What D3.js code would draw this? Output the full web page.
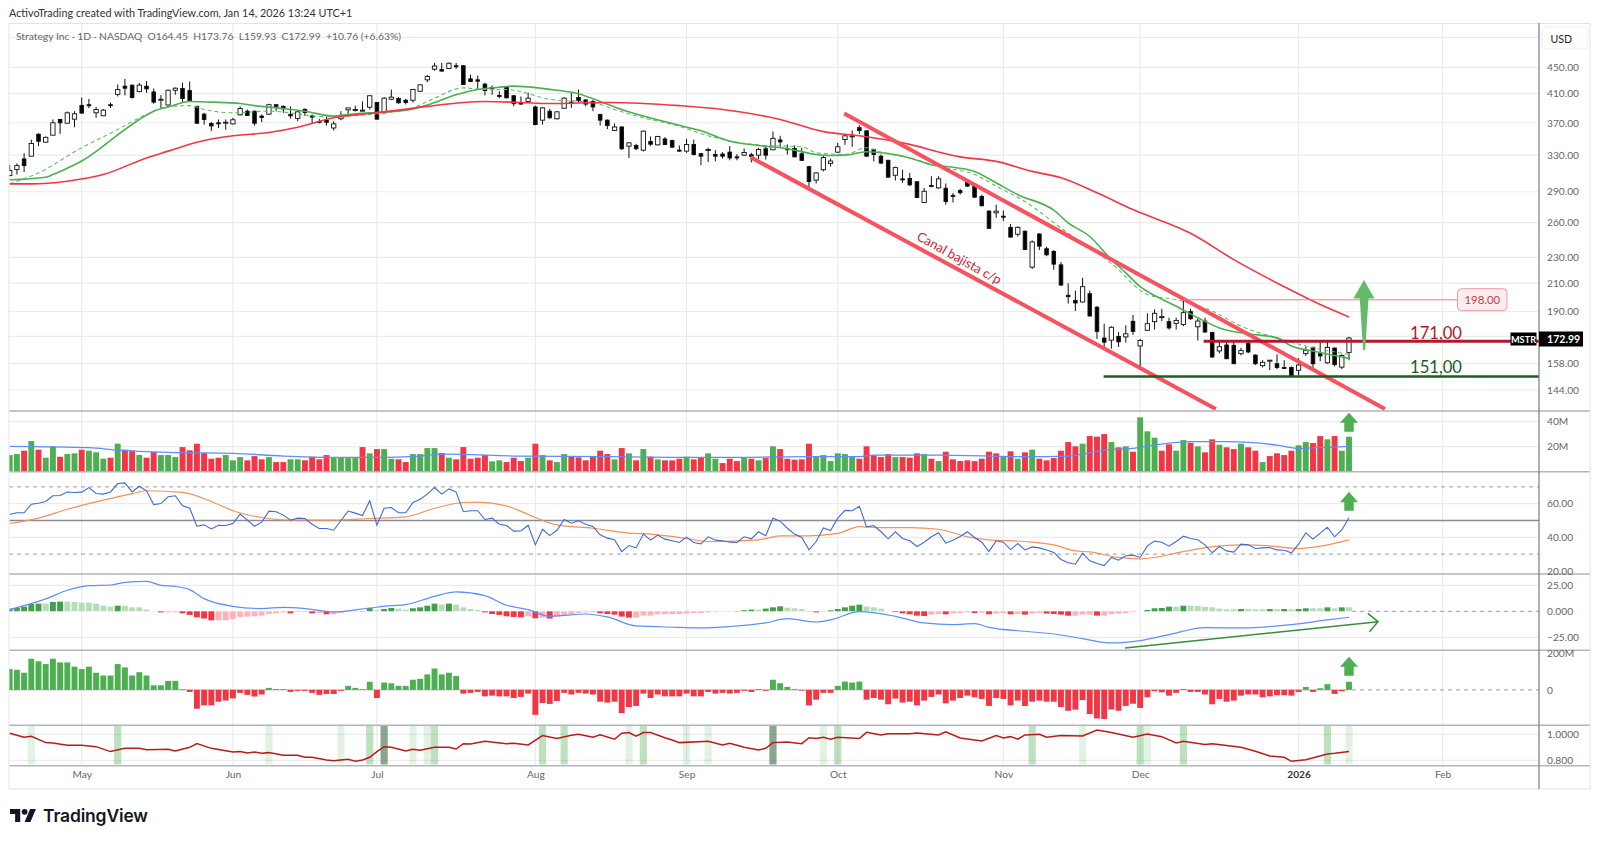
<!DOCTYPE html>
<html lang="en">
<head>
<meta charset="UTF-8">
<title>Strategy Inc - 1D - NASDAQ</title>
<script src="https://d3js.org/d3.v7.min.js"></script>
<style>
  html, body { margin: 0; padding: 0; background: #fff; }
  svg { display: block; }
  text { font-family: Lato, "Noto Sans", sans-serif; }
  .axis text { font-size: 10.2px; fill: #666; font-family: Lato, "Noto Sans", sans-serif; }
  .axis path, .axis line { display: none; }
  .grid { stroke: #ebebeb; stroke-width: 1.2; }
  .sep { stroke: #b2b5be; stroke-width: 1.6; }
</style>
</head>
<body>
<svg id="chart" width="1600" height="842"></svg>
<script>
// OHLC, one value per trading day
const openP = [
  307,313.7,325.6,328.8,355.3,345.4,354.1,374.3,369.4,374.7,
  393.4,394.3,383.2,379.2,394.3,409,421,422.5,413,421,
  412.5,401,393.9,415,417.5,414.5,392,381.4,369,369.9,
  369.9,368.5,380.5,385.4,385.4,378.8,381.4,394.3,392,381,
  375.6,388,378.8,371.6,373.4,363.2,375.2,387.2,386.8,385.9,
  390.8,397.4,383.2,402,403,400.6,400.6,413.5,430.5,447,
  446.5,448,452.5,452.5,432,430.5,424,419,407.5,419,
  407,397.4,398.8,391.2,373.4,385.4,375.2,389.4,397.9,404.5,
  401,398.8,381,373.4,360.1,364.5,340.7,341.5,335.9,346.2,
  342.2,349.4,347.4,335.9,334.7,342.6,331.6,335.9,330.8,331.2,
  333.5,328,330,330.4,330,337.5,336.3,348.2,337.5,337.9,
  331.6,316.9,302.1,313.4,320.5,333.5,348.6,352,363.6,359.6,
  336.7,328.8,324,307.4,303.5,303.9,300.4,279.2,296.5,294,
  293.6,286.3,291.2,300,296.8,285.2,270.8,269.2,266,255.7,
  249.6,252.3,222.2,249.8,237.1,234.9,224,201.2,197.6,196.5,
  202.3,192.9,173,171.7,174,173.7,183.5,168.2,177.8,183.3,
  186.1,183.3,182.2,181.5,189.9,180,183.7,176.4,165.3,168.8,
  168.6,163.7,169.8,162.9,156.9,159.4,158,155.9,155.9,154.4,
  163.7,167.4,163.7,158.5,167,156.1,164.45];
const highP = [
  318.9,320.5,332.3,348.6,356.5,352.5,374.3,375.2,385,385.4,
  404.5,402.5,391.2,388.5,397.4,423.5,432,423.5,426,428.5,
  417.5,408,416,419,426,428,393,383.2,371.2,374.3,
  374.3,376.5,392,387.7,386.3,381,395.7,395.2,393.4,392,
  385.4,389,381,375.2,378,372,385.4,389.9,393,398.8,
  408,397.4,405,416,405,402.5,417,423.5,438,457,
  457,457.5,457,453.5,438.5,437,426,422,413.5,420,
  408,406,411.5,393,390.8,388.5,385.4,405,411,416,
  402,401,381.9,374.3,369,365.4,345.4,343.5,360,352.5,
  353.3,351.7,348.6,341.5,349.4,348.6,332.7,338.7,335.9,333.5,
  340.7,331.2,337.9,332.7,338.7,341.5,358.7,353.3,342.6,341.5,
  338.7,317.7,310.6,329.6,326,344.6,354,360,366.7,360,
  337.5,330.8,324.8,316.9,313.4,309.9,301,294,306.3,306.3,
  298.6,288.7,293,301,298.6,287,271.7,277,271.4,258.8,
  256.6,252.9,244.3,250.4,238.8,236,226.3,209.9,204.6,214,
  204.6,193.6,182,180.4,176.7,181,187.7,172.5,188.8,191.4,
  191.8,185.9,185.9,199.2,191.8,185.2,185.9,176.9,171.7,171.7,
  170.7,167.2,171.1,163.3,160,160,163.3,160,156.5,161.2,
  167.8,167.8,171.1,170.7,167.2,163.3,173.76];
const lowP = [
  306.3,308.1,310.9,328.8,340.7,344.6,354,355.7,369,364.1,
  381.9,389.4,376.5,378.8,389.9,406,407.5,403,412,411,
  395.7,389.9,393,408.5,396.6,399,368.5,367.6,359.2,363.2,
  361,367.6,379.6,378.8,366.3,370.7,380.5,385.4,383.2,375.6,
  372,378.8,368.5,369,366.3,360,373.4,381,385,385,
  387.7,374.3,382.3,401,395.7,394.8,397.4,413,427,444.5,
  443.5,447.5,447.5,423,427,416,407.5,408.5,403.5,403.5,
  392,394.3,398.8,366.7,367.6,375.2,374.3,388.5,389.9,397.4,
  392,385.4,366.3,361.8,359.6,335.9,326.8,335.9,334.3,340.7,
  341.5,341.9,338.3,333.9,332.7,329.6,318.5,322,322.8,326,
  324,324,328.8,321.6,325.6,324.8,335.9,339.9,330.8,327.6,
  323.2,294,298.6,311.6,316.9,332.7,342.2,339.9,355.7,328.4,
  322.8,319.7,304.6,301.8,299.3,295.8,283.5,279.2,294.7,293,
  277,279.2,287,295,283.8,275.4,254.5,264.5,261.4,246.8,
  247.6,236,220.7,236,231,220.2,207.9,195.4,190.3,196.2,
  186.6,172.5,167.2,166.6,167.6,170.2,175,155.5,177.5,178.2,
  183.7,178.2,178.2,180.4,184.4,171.5,176.4,161.2,163.9,160.6,
  157.9,162.7,163.9,157.3,155.9,154.5,155,155,150.8,151.6,
  162.4,154.8,159.4,158,156.5,155,159.93];
const closeP = [
  312.7,318,318,343.8,346.6,351.4,369.9,369.9,383.2,381.9,
  382.8,393.4,387.7,386.8,393.4,416,418,404.5,422.5,417,
  397.9,402,415,418,403,400,369.4,374.3,365.8,369,
  370.7,373.9,389,379.6,369.4,377,394.3,391.7,388.5,379.2,
  384.5,383.6,378,370.7,370.7,368.5,378.8,389.9,387.7,386.8,
  407,374.7,403.5,405,397,397.4,416,423,435.5,452,
  444,456.5,451.5,423.5,428,428.5,414.5,417,406.5,404,
  395.7,395.2,403.5,367.6,389.9,376.5,384.5,403.5,396.1,400,
  395.2,391.2,373.4,366.3,364.5,337.5,344.6,337.5,359.2,343,
  352.5,342.6,339.5,335,342.6,330.8,328.8,336.7,328.8,328.8,
  326.8,327.2,333.1,328.4,336.7,330,350.2,345.8,336.7,328,
  324,300.7,309.9,327.2,323.2,339.9,353.3,353.3,360,328.8,
  330.8,320.9,305.3,315.8,302.8,297.2,284.2,290.5,295.4,303.5,
  280.1,285.6,289,295.8,284.5,276,254.8,270.8,265.4,247.1,
  255.7,236.5,242.9,239.3,232.1,224.6,208.6,200.2,195.8,207.4,
  187,177.1,170.5,179.7,170.7,175.6,177.1,171.5,182,188.8,
  186.6,179.3,184.1,189.2,185.2,183.7,176.7,161.8,167.8,160.8,
  158,165.5,164.7,158,158.8,160,155.9,155.5,151.2,157.3,
  165.7,158,162.4,167.4,157.5,162.7,172.99];

// volume in millions, and which days print green
const volume = [
  13.3,14.1,16.8,24.5,17.6,11.2,20.3,12,14.1,14.7,
  17.6,16.8,15.5,10.4,11.2,22.4,17.6,16.8,13.3,11.2,
  15.7,13.3,13.3,11.7,19.7,17.1,22.4,14.9,10.4,11.2,
  13.3,9.1,11.7,9.1,12.5,9.9,11.7,7.7,7.7,9.9,
  9.9,9.1,12,9.9,13.3,11.2,11.2,10.9,10.9,19.7,
  14.7,18.1,18.1,10.4,9.9,7.7,14.1,14.1,18.9,18.9,
  14.9,11.2,9.9,19.7,10.4,11.2,13.3,8.3,9.1,7.7,
  11.2,8.5,11.2,22.4,13.3,9.1,7.7,14.1,12,11.5,
  9.1,11.7,16.8,14.1,9.9,18.9,14.7,9.1,18.1,12,
  9.9,9.1,9.1,10.4,12,9.9,11.2,14.7,10.4,6.9,
  10.4,8.5,11.7,10.4,9.1,10.9,20.3,18.1,10.4,9.6,
  9.9,22.4,12.5,13.3,8.5,14.7,14.1,12.5,10.4,20.3,
  13.1,11.7,14.1,11.7,11.7,11.2,14.7,14.1,10.4,8.5,
  16,9.9,8.5,9.1,8.5,10.4,16,14.7,12,16.3,
  10.4,15.5,17.6,10.4,9.1,10.9,16.8,23.7,20.3,22.4,
  28.5,28,30.1,23.7,19.5,20.3,16,43.5,32.3,27.2,
  16.8,21.9,16.8,25.3,23.2,20.3,15.5,25.9,21.6,19.5,
  18.1,22.4,19.5,16.8,7.7,12.5,14.7,13.3,16.8,21.1,
  23.7,22.9,28.5,25.9,28.5,16.8,28];
const volumeUpDays = [0,1,3,5,6,8,9,11,12,13,15,18,21,22,23,30,31,32,36,39,40,45,46,47,48,50,52,53,56,57,58,59,61,67,68,
  72,74,76,77,84,86,88,90,94,97,98,102,104,106,112,113,114,115,116,117,123,127,129,138,140,142,149,153,155,157,158,159,
  162,163,165,168,171,174,179,180,183,185,186];

// RSI
const rsiLine = [
  53.6,54.6,54.6,59.7,60.3,61.3,64.7,64.9,67,66.7,
  66.9,69.6,66.1,65.7,67,72,72.4,67,70.4,67.7,
  59.5,60.1,64.1,64.7,58.7,57.3,46.6,47.4,45,47.2,
  47,48.2,53.8,50.2,46.6,49,55.6,55.2,53.2,50.2,
  51.4,51.2,47.8,45.2,45.2,44.2,50,55.6,54.4,53,
  61.7,47.2,57.3,57.7,54.6,54.6,60.7,62.7,65.7,69.6,
  65.7,68.8,66.9,55.2,55.8,55.8,50.6,51.4,47.8,47,
  43.7,43.8,47.2,35.5,44.8,41,44.2,50.6,48.4,49.8,
  47.8,46.4,41.5,39.5,38.5,31.5,35.1,33.7,41.9,38.3,
  41.3,38.9,37.9,36.9,40.1,36.9,36.1,40.3,38.3,37.9,
  37.1,36.9,40.3,39.1,43.3,40.9,51.4,49.6,45.4,41.9,
  39.9,32.5,37.5,45.6,44,51.4,56,55.8,58.5,46.2,
  47,43.3,39.1,43.3,39.3,37.9,34.5,37.1,40.3,42.7,
  36.5,38.3,40.5,43.3,39.9,37.1,31.5,37.9,37.1,32.7,
  36.3,32.5,34.3,33.7,32.5,31,26.8,24.8,24,30.6,
  26,24.4,23.2,28,26.4,29,29.4,28,34.9,37.7,
  37.1,34.7,37.5,40.7,39.3,38.5,35.5,30.8,34.5,31.9,
  31.2,35.9,35.5,33.3,33.7,33.9,32.5,32.3,30.8,35.9,
  42.7,38.9,42.5,46,40.3,44.4,51.6];
const rsiMaDays = [0,4,8,13,17,19,24,28,31,35,39,45,50,55,59,63,65,69,73,76,81,86,89,94,97,104,107,111,115,118,121,125,129,133,136,141,145,148,150,154,157,163,167,171,175,179,182,186];
const rsiMaVals = [48.2,51.4,56.7,62.1,66,67.7,66.7,61.3,55.8,51.8,50.2,50.2,51.2,52.2,57.3,60.7,60.9,58.7,51.8,47.4,45.4,42.5,41.9,39.3,37.5,38.5,40.9,40.9,42.3,46.4,45.8,45.8,44.8,40.3,38.5,37.5,35.5,31.9,31.3,28,27.2,31.5,34.5,35.5,34.9,33.3,34.7,38.5];

// MACD histogram and line
const macdHist = [
  2.6,3.2,4.5,7,7.4,7.4,9,9.3,9.3,9,
  8.3,8.3,7.4,5.4,4.5,5.4,5.4,3.8,3.8,1.6,
  .2,-1,-1,-1,-1.9,-3.5,-5.8,-7,-8.7,-8.7,
  -8.7,-7.4,-5.4,-5.1,-4.8,-4.2,-2.6,-1.9,-1,-1.9,
  -.6,-.6,-1.9,-1.9,-2.9,-2.9,-1.6,-.6,-.3,.3,
  3.2,1,2.2,3.2,2.6,1.6,2.9,3.8,5.4,7.4,
  6.4,7.4,6.4,3.8,2.2,1.3,-1,-2.6,-3.5,-4.8,
  -5.4,-5.8,-4.8,-6.7,-6.1,-7,-5.1,-3.8,-3.2,-1.6,
  -1,-1,-1.9,-2.6,-3.2,-5.1,-6.1,-6.1,-4.2,-4.2,
  -2.9,-2.9,-2.6,-2.6,-2.2,-1.6,-1.6,-1,-.6,-.3,
  -.3,.3,1,1.6,1.6,2.6,3.8,4.8,3.5,2.9,
  2.2,-.2,-1,.2,1,2.2,3.8,5.4,6.4,4.5,
  3.8,2.6,-.1,-.6,-1.9,-2.9,-4.2,-4.5,-3.2,-2.6,
  -2.9,-1.9,-1.6,-1,-1.6,-1.3,-2.9,-2.2,-1.6,-2.9,
  -2.6,-3.2,-2.2,-1.6,-2.2,-2.6,-3.2,-4.2,-4.2,-3.2,
  -3.2,-4.2,-4.2,-2.6,-2.2,-1.6,-.6,0,1.3,2.9,
  3.2,4.5,4.5,5.4,5.4,5.2,4.2,3.8,2.6,1.9,
  1.9,2.2,2.2,1.9,1.9,2.2,1.9,2.2,1.9,2.2,
  2.9,2.9,2.9,3.8,2.9,3.8,3.8];
const macdDays = [0,5,8,11,14,16,19,21,23,25,27,31,35,38,41,45,50,53,55,59,62,66,69,72,75,80,83,87,93,96,100,105,108,112,114,118,123,127,131,134,136,141,145,149,153,157,161,166,171,178,183,186];
const macdVals = [1.6,11.9,20.2,24.7,25.3,27.9,28.8,25,24,20.8,12.2,4.8,2.6,3.8,2.6,-.6,3.2,5.4,6.4,14.4,18.6,15,5.8,1.6,-4.8,-2.6,-5.4,-14.1,-15.4,-16,-14.7,-11.2,-7,-10.3,-8.3,-.3,-4.8,-11.2,-12.8,-11.9,-15.4,-19.2,-21.8,-26.3,-30.4,-28.2,-22.4,-15.7,-16,-12.8,-8.3,-5.8];

// momentum-style histogram, in millions
const momHist = [
  113,109,93,169,155,140,169,149,149,126,
  113,126,93,78,78,140,122,78,96,78,
  25,25,49,49,4,-11,-102,-84,-84,-64,
  -58,-46,-16,-27,-36,-25,11,5,4,-11,
  -5,-5,-16,-27,-22,-22,-5,22,11,4,
  44,-44,40,36,22,22,55,60,84,116,
  84,93,75,-20,-16,-11,-35,-31,-35,-35,
  -44,-38,-20,-135,-71,-76,-60,-16,-25,-16,
  -20,-25,-64,-69,-64,-126,-93,-87,-20,-44,
  -25,-35,-35,-35,-20,-35,-35,-11,-20,-16,
  -20,-16,-5,-11,5,-5,55,36,16,5,
  -4,-84,-53,-16,-16,22,45,40,45,-53,
  -44,-53,-78,-47,-69,-64,-84,-58,-38,-25,
  -73,-58,-44,-31,-40,-49,-87,-44,-49,-84,
  -58,-87,-64,-58,-64,-64,-93,-113,-107,-55,
  -131,-155,-158,-106,-113,-87,-75,-98,-40,-7,
  -13,-31,-16,5,-11,-11,-25,-78,-49,-64,
  -58,-31,-25,-25,-40,-35,-29,-29,-31,-11,
  16,-11,9,31,-22,-7,44];

// correlation-style line and the highlighted days
const corrDays = [0,2,3,5,6,8,10,12,14,16,18,19,22,23,25,26,28,31,32,33,34,35,36,38,40,41,42,44,45,47,48,49,50,51,52,53,55,56,57,59,61,62,63,64,66,69,70,72,74,76,78,79,81,82,84,85,86,87,88,89,91,92,93,97,99,100,102,104,105,106,108,110,111,112,113,114,115,118,119,121,122,125,126,129,130,132,135,137,138,139,140,141,143,144,146,149,151,153,156,158,160,162,163,166,167,171,173,175,177,178,180,183,184,186];
const corrVals = [1.008,.977,.985,.936,.933,.915,.915,.905,.867,.892,.892,.882,.885,.872,.9,.928,.892,.864,.867,.856,.864,.854,.859,.838,.838,.823,.823,.803,.797,.808,.792,.803,.823,.867,.905,.9,.872,.885,.877,.9,.9,.887,.928,.926,.946,.928,.931,.918,.99,.967,.992,1,.977,.997,.962,1.008,1.013,.985,1.013,1.013,.974,.956,.936,.946,.918,.931,.9,.879,.892,.936,.941,.928,.974,.967,.977,.962,.977,.967,1.015,.995,1.005,1.005,1.01,.995,1.02,.972,.949,.99,.972,.982,.962,.995,1,.977,.99,.987,1.033,1.013,.977,1.003,.982,.933,.946,.921,.928,.9,.869,.833,.823,.792,.805,.849,.854,.867];
const highlightLight = [3,36,46,56,58,86,94,97,113,149,158,186];
const highlightMid = [15,50,59,74,77,88,115,142,157,163,183];
const highlightDark = [52,106];

// moving averages on the price panel
const greenDays = [0,5,6,8,10,13,15,18,20,22,25,28,32,34,38,41,45,47,50,52,56,58,62,65,68,70,72,76,79,82,85,88,92,96,100,104,108,112,114,116,119,122,125,128,131,134,137,140,145,147,150,153,155,157,159,162,165,168,172,176,178,181,185,186];
const greenVals = [302.5,305.3,308.1,315.1,323.2,340.7,354.5,374.3,385.4,391.2,398.8,397.9,396.1,393,389,385.4,378.8,381,383.2,384.1,388.5,393.9,408.5,416,419.5,421,420,415,410,398.8,387.7,378.8,369,359.6,346.6,341.5,337.5,330.8,329.6,330,334,332,326.8,318.9,316.2,311.6,299.3,287,271.7,259.8,247.6,228.2,217.8,207.4,201,193.6,185.9,179.3,175.6,173.1,168.2,165.3,161.8,161];
const dashDays = [0,4,10,14,19,22,25,27,31,36,44,52,56,59,63,66,69,75,81,84,88,93,97,101,105,110,112,116,119,121,125,129,134,137,141,147,151,154,156,158,162,167,171,176,180,186];
const dashVals = [298.2,309.9,338.7,356.5,381,392,393,387.7,383.2,385.4,378,383.2,389.9,403.5,418.5,416,416,402,397.4,387.7,376.5,365.4,353.3,345.4,341.5,339.9,332.7,330.8,338.7,333.5,326.8,316.9,308.1,295.8,280.1,250.4,233.8,220.2,209.1,201.7,198,190.3,180.4,173.1,168.2,163.3];
const redDays = [0,3,8,13,19,22,26,31,36,40,45,50,54,58,63,66,71,75,83,93,99,107,113,118,124,132,137,142,146,151,156,164,170,177,182,186];
const redVals = [298.2,298.2,301,308.1,326.8,334.7,345.4,353.3,357.4,364.1,376.5,382.3,386.8,392,397.4,398.8,397.4,396,397.4,393,387.7,374.3,358.6,353.3,344.6,328,322.8,311.6,304.6,288.9,272.3,250.4,228.2,207.4,194.7,186.4];

// volume average
const volMaDays = [0,11,15,22,31,38,45,51,57,60,71,83,92,102,111,118,120,129,141,147,152,156,159,164,169,176,179,183,186];
const volMaVals = [20.3,19.2,17.3,15.5,14.7,12.5,11.5,11.5,12.5,14.1,12.5,12,11.5,11.5,12,12,13.3,13.3,12,12.5,17.3,18.7,21.3,24,24,21.3,18.7,19.5,20.3];

// axis ticks
const priceTicks = [450,410,370,330,290,260,230,210,190,158,144];
const priceGridExtra = [500,174];
const volTicks = [40,20];
const rsiTicks = [60,40,20];
const macdTicks = [25,0,-25];
const macdLabels = ["25.00","0.000","\u221225.00"];
const momTicks = [200,0];
const corrTicks = [1,.8];
const corrLabels = ["1.0000","0.800"];
const monthDays = [10,31,51,73,94,115,138,157,179,199];
const monthLabels = ["May","Jun","Jul","Aug","Sep","Oct","Nov","Dec","2026","Feb"];

// drawings: [day, price]
const channelUpper = [[115.9,382.2],[191,134.7]];
const channelLower = [[102.9,327.6],[167.5,134.7]];

const svg = d3.select("#chart");
const left = 9, right = 1539, outer = 1590;

const x = d3.scaleLinear().domain([0,186]).range([9.7,1349]);
const yPrice = d3.scaleLog().domain([450,144]).range([67.3,390]);
const yVol = d3.scaleLinear().domain([0,40]).range([471.7,421.7]);
const yRsi = d3.scaleLinear().domain([60,40]).range([503.7,537.3]);
const yMacd = d3.scaleLinear().domain([25,-25]).range([585.3,637.3]);
const yMom = d3.scaleLinear().domain([200,0]).range([653,689.9]);
const yCorr = d3.scaleLinear().domain([1,.8]).range([734.3,760.3]);

const GREEN = "#4caf50", RED = "#f23645";

svg.append("defs").append("clipPath").attr("id","plot")
  .append("rect").attr("x",left).attr("y",24).attr("width",right-left).attr("height",742);
svg.select("defs").append("clipPath").attr("id","pricePane")
  .append("rect").attr("x",left).attr("y",24).attr("width",right-left).attr("height",387);

// horizontal and vertical grid
const grid = svg.append("g");
const hLines = [...priceTicks,...priceGridExtra].map(yPrice)
  .concat(volTicks.map(yVol), [60,40].map(yRsi), [25,-25].map(yMacd), corrTicks.map(yCorr));
grid.selectAll("line.h").data(hLines).join("line").attr("class","grid h")
  .attr("x1",left).attr("x2",right).attr("y1",d=>d).attr("y2",d=>d);
grid.selectAll("line.v").data(monthDays).join("line").attr("class","grid v")
  .attr("x1",d=>x(d)).attr("x2",d=>x(d)).attr("y1",24).attr("y2",766);

// highlighted days in the bottom panel go behind everything else there
const hl = svg.append("g").attr("clip-path","url(#plot)");
function highlight(days, color) {
  hl.selectAll(null).data(days).join("rect")
    .attr("x",d=>x(d)-3.6).attr("width",7.2)
    .attr("y",726).attr("height",38.5).attr("fill",color);
}
highlight(highlightLight,"rgba(76,175,80,.16)");
highlight(highlightMid,"rgba(76,175,80,.36)");
highlight(highlightDark,"rgba(40,95,50,.55)");

// price candles
const days = d3.range(openP.length);
const bodyW = d => closeP[d]>=openP[d] ? 4.3 : 3.6;
const pane = svg.append("g").attr("clip-path","url(#pricePane)");
pane.selectAll("line.wick").data(days).join("line").attr("class","wick")
  .attr("x1",d=>x(d)).attr("x2",d=>x(d))
  .attr("y1",d=>yPrice(highP[d])).attr("y2",d=>yPrice(lowP[d]))
  .attr("stroke","#111").attr("stroke-width",1);
pane.selectAll("rect.body").data(days).join("rect").attr("class","body")
  .attr("x",d=>x(d)-bodyW(d)/2).attr("width",bodyW)
  .attr("y",d=>yPrice(Math.max(openP[d],closeP[d])))
  .attr("height",d=>Math.max(1,Math.abs(yPrice(openP[d])-yPrice(closeP[d]))))
  .attr("fill",d=>closeP[d]>=openP[d]?"#fff":"#000")
  .attr("stroke","#111").attr("stroke-width",.9);

// moving averages
const smooth = d3.curveMonotoneX;
const pLine = d3.line().x(d=>x(d[0])).y(d=>yPrice(d[1]));
const pSmooth = d3.line().curve(smooth).x(d=>x(d[0])).y(d=>yPrice(d[1]));
const zipped = (a,b) => a.map((d,i)=>[d,b[i]]);
pane.append("path").datum(zipped(dashDays,dashVals)).attr("d",pSmooth)
  .attr("fill","none").attr("stroke","#66bb6a").attr("stroke-width",1.1).attr("stroke-dasharray","4 3");
pane.append("path").datum(zipped(greenDays,greenVals)).attr("d",pSmooth)
  .attr("fill","none").attr("stroke","#4caf50").attr("stroke-width",1.6);
pane.append("path").datum(zipped(redDays,redVals)).attr("d",pSmooth)
  .attr("fill","none").attr("stroke",RED).attr("stroke-width",1.6);

// channel lines and levels
[channelUpper,channelLower].forEach(c=>{
  pane.append("path").datum(c).attr("d",pLine).attr("fill","none")
    .attr("stroke","#f7525f").attr("stroke-width",4);
});
pane.append("line").attr("x1",1184).attr("x2",1458).attr("y1",yPrice(198)).attr("y2",yPrice(198))
  .attr("stroke","#e57f88").attr("stroke-width",1);
pane.append("line").attr("x1",1203.6).attr("x2",right).attr("y1",yPrice(171)).attr("y2",yPrice(171))
  .attr("stroke","#b2182b").attr("stroke-width",3);
pane.append("line").attr("x1",1103.6).attr("x2",right).attr("y1",yPrice(151)).attr("y2",yPrice(151))
  .attr("stroke","#1b5e20").attr("stroke-width",2.6);
svg.append("text").attr("x",1436).attr("y",338.5).attr("text-anchor","middle")
  .attr("font-size",16.6).attr("fill","#b2182b").text("171,00");
svg.append("text").attr("x",1436).attr("y",372.5).attr("text-anchor","middle")
  .attr("font-size",16.6).attr("fill","#1b5e20").text("151,00");
svg.append("rect").attr("x",1457.5).attr("y",288.7).attr("width",49.5).attr("height",22).attr("rx",4)
  .attr("fill","#fdecee").attr("stroke","#ef9aa2").attr("stroke-width",1);
svg.append("text").attr("x",1482.3).attr("y",304).attr("text-anchor","middle")
  .attr("font-size",11.4).attr("fill","#c2404a").text("198.00");
svg.append("text").attr("transform","translate(957,262) rotate(29)").attr("text-anchor","middle")
  .attr("font-size",13).attr("fill","#c2243a").text("Canal bajista c/p");

// big target arrow
svg.append("path")
  .attr("d","M1364 280 L1374.5 298.5 L1368.5 298.5 L1365.2 350 L1363 350 L1359.8 298.5 L1353.3 298.5 Z")
  .attr("fill","#66bb6a");

// volume
const volUp = new Set(volumeUpDays);
const barW = 5.9;
const lower = svg.append("g").attr("clip-path","url(#plot)");
lower.selectAll("rect.vol").data(days).join("rect").attr("class","vol")
  .attr("x",d=>x(d)-barW/2).attr("width",barW)
  .attr("y",d=>yVol(volume[d])).attr("height",d=>yVol(0)-yVol(volume[d]))
  .attr("fill",d=>volUp.has(d)?GREEN:RED);
lower.append("path").datum(zipped(volMaDays,volMaVals))
  .attr("d",d3.line().curve(smooth).x(d=>x(d[0])).y(d=>yVol(d[1])))
  .attr("fill","none").attr("stroke","#5b8ff9").attr("stroke-width",1.3);

// RSI
[70,30].forEach(v=>{
  lower.append("line").attr("x1",left).attr("x2",right).attr("y1",yRsi(v)).attr("y2",yRsi(v))
    .attr("stroke","#9a9da6").attr("stroke-width",1).attr("stroke-dasharray","4 4");
});
lower.append("line").attr("x1",left).attr("x2",right).attr("y1",yRsi(50)).attr("y2",yRsi(50))
  .attr("stroke","#8a8d96").attr("stroke-width",1.5);
lower.append("path").datum(zipped(rsiMaDays,rsiMaVals))
  .attr("d",d3.line().curve(smooth).x(d=>x(d[0])).y(d=>yRsi(d[1])))
  .attr("fill","none").attr("stroke","#f4915a").attr("stroke-width",1.2);
lower.append("path").datum(days.map(d=>[d,rsiLine[d]]))
  .attr("d",d3.line().x(d=>x(d[0])).y(d=>yRsi(d[1])))
  .attr("fill","none").attr("stroke","#4169d8").attr("stroke-width",1.1);

// MACD
const macdColor = d => {
  const v = macdHist[d], prev = d ? macdHist[d-1] : 0;
  if (v >= 0) return v > prev ? "#43a047" : "#b7dcb8";
  return v < prev ? RED : "#ffb3b8";
};
lower.selectAll("rect.macd").data(days).join("rect").attr("class","macd")
  .attr("x",d=>x(d)-barW/2).attr("width",barW)
  .attr("y",d=>Math.min(yMacd(0),yMacd(macdHist[d])))
  .attr("height",d=>Math.abs(yMacd(macdHist[d])-yMacd(0)))
  .attr("fill",macdColor);
lower.append("line").attr("x1",x(186)+3).attr("x2",right).attr("y1",yMacd(0)).attr("y2",yMacd(0))
  .attr("stroke","#9a9da6").attr("stroke-dasharray","4 4");
lower.append("path").datum(zipped(macdDays,macdVals))
  .attr("d",d3.line().curve(smooth).x(d=>x(d[0])).y(d=>yMacd(d[1])))
  .attr("fill","none").attr("stroke","#5b8ff9").attr("stroke-width",1.2);
svg.append("path").attr("d","M1125 648 L1378 621.7 M1367.8 613.3 L1378 621.7 L1369.5 631.7")
  .attr("fill","none").attr("stroke","#388e3c").attr("stroke-width",1.5);

// momentum histogram
lower.append("line").attr("x1",left).attr("x2",x(186)).attr("y1",yMom(0)).attr("y2",yMom(0))
  .attr("stroke","#b2b5be");
lower.append("line").attr("x1",x(186)+3).attr("x2",right).attr("y1",yMom(0)).attr("y2",yMom(0))
  .attr("stroke","#9a9da6").attr("stroke-dasharray","4 4");
lower.selectAll("rect.mom").data(days).join("rect").attr("class","mom")
  .attr("x",d=>x(d)-barW/2).attr("width",barW)
  .attr("y",d=>Math.min(yMom(0),yMom(momHist[d])))
  .attr("height",d=>Math.abs(yMom(momHist[d])-yMom(0)))
  .attr("fill",d=>momHist[d]>=0?GREEN:RED);

// correlation line
lower.append("path").datum(zipped(corrDays,corrVals))
  .attr("d",d3.line().x(d=>x(d[0])).y(d=>yCorr(d[1])))
  .attr("fill","none").attr("stroke","#b71c1c").attr("stroke-width",1.5);

// small green arrows above the last bar
function upArrow(tip, base, bottom) {
  const c = x(186);
  svg.append("path")
    .attr("d",`M${c} ${tip} L${c+9} ${base} L${c+4.7} ${base} L${c+4.7} ${bottom} L${c-4.7} ${bottom} L${c-4.7} ${base} L${c-9} ${base} Z`)
    .attr("fill",GREEN);
}
upArrow(412.7,422.7,431.7);
upArrow(491.7,502.3,510.7);
upArrow(656.7,666.7,675.7);

// panel separators and frame
const seps = [411,471.7,574,650.3,725.3,765.7];
svg.selectAll("line.sep").data(seps).join("line").attr("class","sep")
  .attr("x1",left).attr("x2",outer).attr("y1",d=>d).attr("y2",d=>d);
svg.append("path").attr("d",`M${left} 23.5 H${outer} V789 H${left} Z`)
  .attr("fill","none").attr("stroke","#e0e3eb");
svg.append("line").attr("x1",right).attr("x2",right).attr("y1",23).attr("y2",789)
  .attr("stroke","#787b86").attr("stroke-width",1.2);

// axes
function rightAxis(scale, ticks, fmt) {
  return svg.append("g").attr("class","axis").attr("transform",`translate(${right},0)`)
    .call(d3.axisRight(scale).tickValues(ticks).tickFormat(fmt).tickSize(0).tickPadding(8));
}
rightAxis(yPrice, priceTicks, d=>d+".00");
rightAxis(yVol, volTicks, d=>d+"M");
rightAxis(yRsi, rsiTicks, d=>d+".00");
rightAxis(yMacd, macdTicks, (d,i)=>macdLabels[i]);
rightAxis(yMom, momTicks, d=>d?d+"M":"0");
rightAxis(yCorr, corrTicks, (d,i)=>corrLabels[i]);

const timeAxis = svg.append("g").attr("class","axis").attr("transform","translate(0,766)")
  .call(d3.axisBottom(x).tickValues(monthDays).tickFormat((d,i)=>monthLabels[i]).tickSize(0).tickPadding(5));
timeAxis.selectAll("text").filter(d=>d===179).style("font-weight",700).style("fill","#333");

// last price tags
svg.append("rect").attr("x",1510.5).attr("y",332.5).attr("width",26).attr("height",13).attr("fill","#000");
svg.append("text").attr("x",1523.5).attr("y",342.6).attr("text-anchor","middle")
  .attr("font-size",9.2).attr("font-weight",700).attr("fill","#fff").text("MSTR");
svg.append("rect").attr("x",1539).attr("y",331.5).attr("width",44).attr("height",15).attr("fill","#000");
svg.append("text").attr("x",1547).attr("y",342.8).attr("font-size",10.6).attr("font-weight",700)
  .attr("fill","#fff").text("172.99");

// currency button
svg.append("rect").attr("x",1542).attr("y",27).attr("width",46).attr("height",22).attr("rx",3)
  .attr("fill","#fff").attr("stroke","#eceef2");
svg.append("text").attr("x",1550.5).attr("y",42.5).attr("font-size",10.6).attr("fill","#222").text("USD");

// titles
svg.append("text").attr("x",9).attr("y",17).attr("font-size",10.85).attr("fill","#333")
  .text("ActivoTrading created with TradingView.com, Jan 14, 2026 13:24 UTC+1");
svg.append("text").attr("x",16).attr("y",40).attr("font-size",10.3).attr("fill","#666")
  .text("Strategy Inc \u00b7 1D \u00b7 NASDAQ  O164.45  H173.76  L159.93  C172.99  +10.76 (+6.63%)")
  .attr("xml:space","preserve");

// TradingView mark
svg.append("g").attr("transform","translate(10,806) scale(.73)").selectAll("path")
  .data(["M14 22H7V11H0V4h14v18zM28 22h-8l7.5-18h8L28 22z"]).join("path").attr("d",d=>d).attr("fill","#131722");
svg.append("circle").attr("cx",10+20*.73).attr("cy",806+8*.73).attr("r",4*.73).attr("fill","#131722");
svg.append("text").attr("x",43).attr("y",822).attr("font-size",17.5).attr("font-weight",600)
  .attr("textLength",105).style("font-family","Inter, sans-serif").attr("fill","#131722").text("TradingView");
</script>
</body>
</html>
